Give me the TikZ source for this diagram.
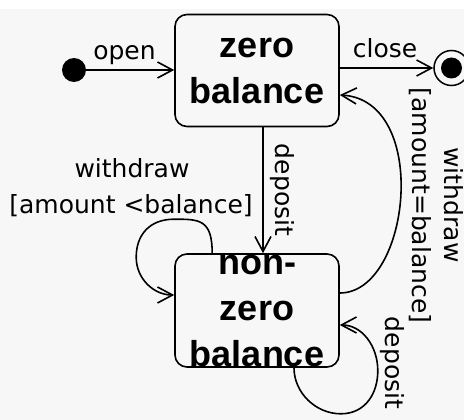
\documentclass[tikz,border=0pt]{standalone}
\usepackage{fontspec}
\setmainfont{DejaVu Sans}
\newfontfamily\statefont{Liberation Sans}
\usetikzlibrary{arrows.meta,calc}
\definecolor{canvas}{RGB}{247,247,247}
\begin{document}
\begin{tikzpicture}[x=1pt,y=-1pt,
  state/.style={draw, line width=1.6pt, rounded corners=12pt,
    minimum width=164pt, minimum height=112pt, inner sep=0pt, align=center,
    font=\statefont\bfseries\fontsize{36}{46}\selectfont},
  lbl/.style={font=\fontsize{25}{35}\selectfont, inner sep=0pt},
  trans/.style={line width=1.6pt,
    -{Straight Barb[length=15pt,width=16pt,line width=1.6pt]}},
  initstate/.style={circle, fill=black, minimum size=24pt, inner sep=0pt},
  finalring/.style={circle, draw, line width=1.5pt, minimum size=35pt, inner sep=0pt},
  finaldot/.style={circle, fill=black, minimum size=21pt, inner sep=0pt},
]
% canvas
\fill[white] (0,0) rectangle (464,9);
\fill[canvas] (0,9) rectangle (464,420);
\useasboundingbox (0,0) rectangle (464,420);

% states
\node[state] (zero) at (257,70.5) {zero\\balance};
\node[state, minimum height=113pt] (nonzero) at (257,310.5) {non-\\zero\\balance};
\node[initstate] (init) at (74,70) {};
\node[finalring] (final) at (451.5,68) {};
\node[finaldot] (finalcore) at (final) {};

% open / close
\draw[trans] (init.east) -- (init.east -| zero.west);
\node[lbl, anchor=base] (openlbl) at (124.5,60) {open};
\draw[trans] (zero.east |- final) -- (final.west);
\node[lbl, anchor=base] (closelbl) at (385,58) {close};

% deposit into the non-zero state
\draw[trans] ($(zero.south)+(6,0)$) -- ($(nonzero.north)+(6,0)$);
\node[lbl, rotate=-90] (deplbl) at (282,190) {deposit};

% withdraw back to zero balance
\draw[trans] ($(nonzero.east)+(0,-17.5)$) .. controls +(71,0) and +(91,5) .. ($(zero.east)+(0,24.5)$);
\node[lbl, rotate=-90] (guardlbl) at (420,205.5) {[amount=balance]};
\node[lbl, rotate=-90] (wdrlbl) at (454,205) {withdraw};

% withdraw self-loop
\draw[trans] ($(nonzero.north west)+(38,0)$)
  .. controls +(0,-34) and +(25,0) .. ($(nonzero.north west)+(0,-34)$)
  .. controls +(-25,0) and +(0,-22) .. ($(nonzero.north west)+(-38,4)$)
  .. controls +(0,22) and +(-20,0) .. ($(nonzero.west)+(0,-15.5)$);
\node[lbl, anchor=base] (wdl1) at (132,178) {withdraw};
\node[lbl, anchor=base] (wdl2) at (131,213) {[amount <balance]};

% deposit self-loop
\draw[trans] ($(nonzero.south)+(37,0)$)
  .. controls +(0,25) and +(-25,0) .. ($(nonzero.south east)+(1,46)$)
  .. controls +(25,0) and +(0,22) .. ($(nonzero.south east)+(38,3)$)
  .. controls +(0,-25) and +(22,0) .. ($(nonzero.east)+(0,14.5)$);
\node[lbl, rotate=-90] (deplbl2) at (392,363) {deposit};
\end{tikzpicture}
\end{document}
